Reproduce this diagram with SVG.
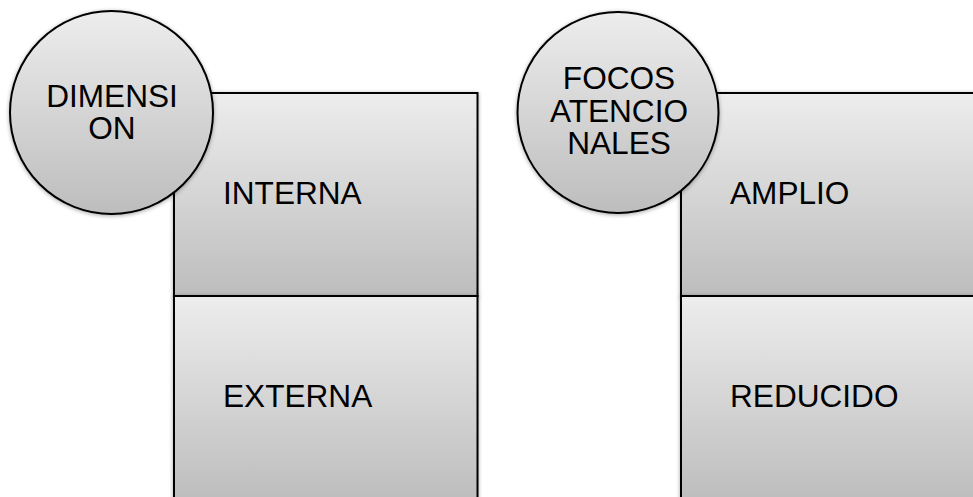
<svg xmlns="http://www.w3.org/2000/svg" width="973" height="497" viewBox="0 0 973 497">
<defs>
<linearGradient id="g" x1="0" y1="0" x2="0" y2="1">
<stop offset="0" stop-color="#ededed"/>
<stop offset="1" stop-color="#bdbdbd"/>
</linearGradient>
<filter id="sh" x="-10%" y="-10%" width="120%" height="120%">
<feGaussianBlur in="SourceAlpha" stdDeviation="2"/>
<feOffset dx="0" dy="1" result="b"/>
<feComponentTransfer><feFuncA type="linear" slope="0.35"/></feComponentTransfer>
<feMerge><feMergeNode/><feMergeNode in="SourceGraphic"/></feMerge>
</filter>
</defs>
<style>
.box{fill:url(#g);stroke:#000;stroke-width:2;filter:url(#sh)}
.t{font-family:"Liberation Sans",Arial,sans-serif;font-size:31.6px;fill:#000}
.c{text-anchor:middle}
</style>
<rect width="973" height="497" fill="#fff"/>
<g id="connectors"></g>
<g id="interna"><rect class="box" x="174" y="93" width="303.5" height="203"/><text class="t" x="223" y="204">INTERNA</text></g>
<g id="externa"><rect class="box" x="174" y="296" width="303.5" height="205"/><text class="t" x="223" y="407">EXTERNA</text></g>
<g id="amplio"><rect class="box" x="681" y="93" width="300" height="203"/><text class="t" x="730" y="204">AMPLIO</text></g>
<g id="reducido"><rect class="box" x="681" y="296" width="300" height="205"/><text class="t" x="730" y="407">REDUCIDO</text></g>
<g id="dimension"><circle class="box" cx="111.5" cy="112.5" r="101.5"/><text class="t c" x="112" y="107">DIMENSI</text><text class="t c" x="112" y="139">ON</text></g>
<g id="focos"><circle class="box" cx="618" cy="112.5" r="100.5"/><text class="t c" x="619" y="89">FOCOS</text><text class="t c" x="619" y="122">ATENCIO</text><text class="t c" x="619" y="154">NALES</text></g>
</svg>
